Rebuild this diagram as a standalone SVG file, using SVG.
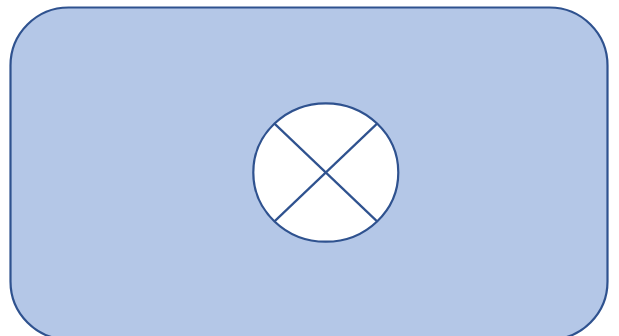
<svg xmlns="http://www.w3.org/2000/svg" width="619" height="336" viewBox="0 0 619 336">
<style>
.s{stroke:#2F528F;stroke-width:2.2;}
</style>
<g id="container">
<rect class="s" x="10.5" y="7.5" width="597" height="332" rx="58" ry="58" fill="#B4C7E7"/>
</g>
<g id="junction">
<ellipse class="s" cx="325.8" cy="172.5" rx="72.5" ry="69.2" fill="#FFFFFF"/>
<line class="s" x1="274.5" y1="123.6" x2="377.1" y2="221.4"/>
<line class="s" x1="377.1" y1="123.6" x2="274.5" y2="221.4"/>
</g>
</svg>
